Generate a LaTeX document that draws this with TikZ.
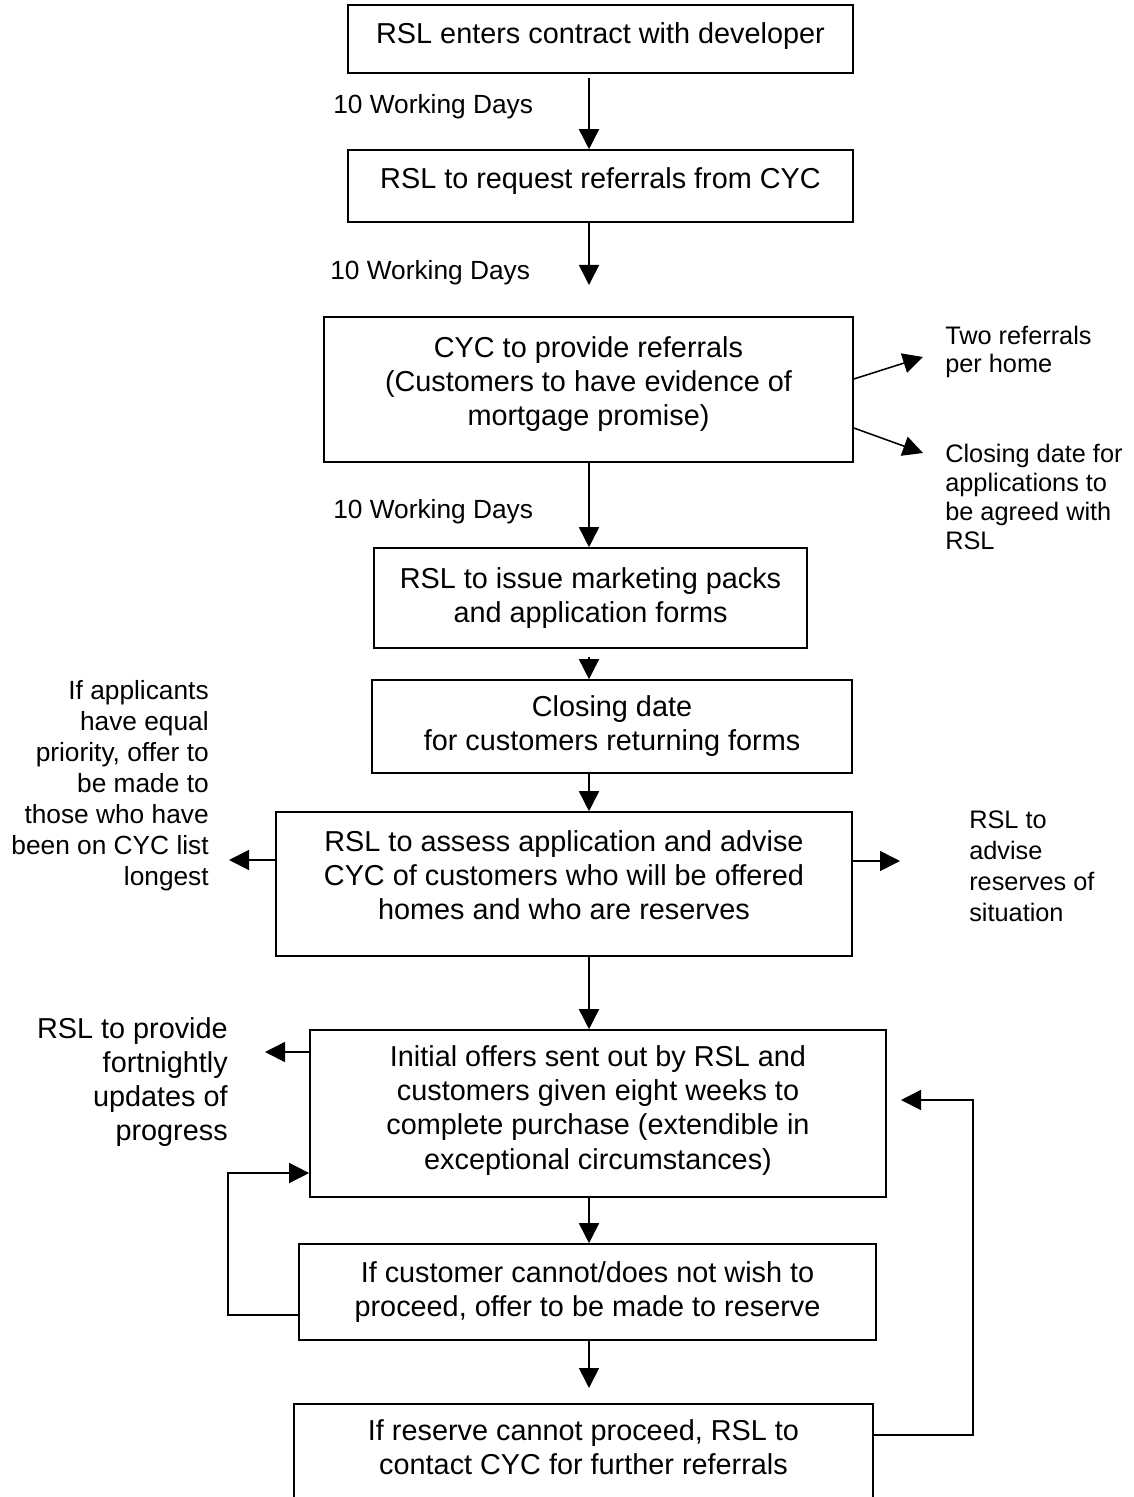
\documentclass[tikz,border=0pt]{standalone}
\usepackage{fontspec}
\setmainfont{Liberation Sans}
\usetikzlibrary{arrows.meta}

\tikzset{
  box/.style={draw, line width=1.1pt, inner sep=0pt, align=center, font=\fontsize{20.5}{24.2}\selectfont},
  note/.style={inner sep=0pt, font=\fontsize{18}{20.5}\selectfont},
  flow/.style={line width=1.1pt, -{Triangle[width=0.5cm,length=0.5cm]}},
}

\begin{document}
\begin{tikzpicture}[x=0.025cm,y=-0.025cm]
   \useasboundingbox (0,0) rectangle (1133,1497);
   \clip (0,0) rectangle (1133,1497);
   \coordinate (axis) at (589,0);

   % 箱
   \node[box, minimum width=12.625cm, minimum height=1.7cm, text depth=8.5pt] (b1) at (600.5,39) {RSL enters contract with developer};
   \node[box, minimum width=12.625cm, minimum height=1.8cm, text depth=11pt] (b2) at (600.5,186) {RSL to request referrals from CYC};
   \node[box, minimum width=13.225cm, minimum height=3.625cm, text depth=12.5pt] (b3) at (588.5,389.5) {CYC to provide referrals\\(Customers to have evidence of\\mortgage promise)};
   \node[box, minimum width=10.825cm, minimum height=2.5cm] (b4) at (590.5,598) {RSL to issue marketing packs\\and application forms};
   \node[box, minimum width=12cm, minimum height=2.325cm] (b5) at (612,726.5) {Closing date\\for customers returning forms};
   \node[box, minimum width=14.4cm, minimum height=3.6cm, text depth=13pt] (b6) at (564,884) {RSL to assess application and advise\\CYC of customers who will be offered\\homes and who are reserves};
   \node[box, minimum width=14.4cm, minimum height=4.175cm, text depth=8.5pt] (b7) at (598,1113.5) {Initial offers sent out by RSL and\\customers given eight weeks to\\complete purchase (extendible in\\exceptional circumstances)};
   \node[box, minimum width=14.425cm, minimum height=2.4cm] (b8) at (587.5,1292) {If customer cannot/does not wish to\\proceed, offer to be made to reserve};
   \node[box, minimum width=14.475cm, minimum height=2.4cm, text depth=7pt] (b9) at (583.5,1452) {If reserve cannot proceed, RSL to\\contact CYC for further referrals};

   % 注記
   \node[note, anchor=west, font=\fontsize{18.7}{21}\selectfont] (wd1) at (333,107) {10 Working Days};
   \node[note, anchor=west, font=\fontsize{18.7}{21}\selectfont] (wd2) at (330,273) {10 Working Days};
   \node[note, anchor=west, font=\fontsize{18.7}{21}\selectfont] (wd3) at (333,512) {10 Working Days};
   \node[note, anchor=west, align=left] (two) at (945,352) {Two referrals\\per home};
   \node[note, anchor=west, align=left] (clos) at (945,497) {Closing date for\\applications to\\be agreed with\\RSL};
   \node[note, anchor=east, align=right, font=\fontsize{18.7}{22}\selectfont] (prio) at (209,786) {If applicants\\have equal\\priority, offer to\\be made to\\those who have\\been on CYC list\\longest};
   \node[note, anchor=west, align=left, font=\fontsize{18}{22}\selectfont] (adv) at (969,866) {RSL to\\advise\\reserves of\\situation};
   \node[note, anchor=east, align=right, font=\fontsize{20.5}{24.2}\selectfont] (upd) at (228,1082) {RSL to provide\\fortnightly\\updates of\\progress};

   % 矢印
   \coordinate (c2) at (589,285);
   \coordinate (c8) at (589,1388);
   \draw[flow, shorten <=0.1cm] (b1.south -| axis) -- (b2.north -| axis);
   \draw[flow] (b2.south -| axis) -- (c2);
   \draw[flow] (b3.south -| axis) -- (b4.north -| axis);
   \draw[flow, shorten <=0.2cm] (b4.south -| axis) -- (b5.north -| axis);
   \draw[flow] (b5.south -| axis) -- (b6.north -| axis);
   \draw[flow] (b6.south -| axis) -- (b7.north -| axis);
   \draw[flow] (b7.south -| axis) -- (b8.north -| axis);
   \draw[flow] (b8.south -| axis) -- (c8);

   \coordinate (t1) at (923,357);
   \coordinate (t2) at (923,453);
   \draw[flow] (b3.east |- 0,379) -- (t1);
   \draw[flow] (b3.east |- 0,428) -- (t2);
   \coordinate (t3) at (229,860);
   \coordinate (t4) at (900,861);
   \draw[flow] (b6.west |- t3) -- (t3);
   \draw[flow] (b6.east |- t4) -- (t4);
   \coordinate (t5) at (265,1052);
   \draw[flow] (b7.west |- t5) -- (t5);

   % 戻り線
   \coordinate (lp1) at (228,1315);
   \coordinate (lp2) at (228,1173);
   \draw[flow] (b8.west |- lp1) -- (lp1) -- (lp2) -- (b7.west |- lp2);
   \coordinate (rp1) at (973,1435);
   \coordinate (rp2) at (973,1100);
   \coordinate (t6) at (901,1100);
   \draw[flow] (b9.east |- rp1) -- (rp1) -- (rp2) -- (t6);

\end{tikzpicture}
\end{document}
